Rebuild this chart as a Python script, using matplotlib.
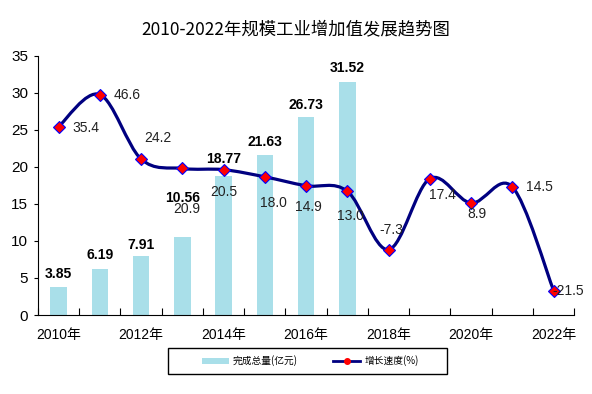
import numpy as np
import matplotlib
matplotlib.use("Agg")
import matplotlib.pyplot as plt
from matplotlib.path import Path
from matplotlib.patches import PathPatch, Patch, Rectangle
from matplotlib.lines import Line2D

plt.rcParams['font.family'] = ['Liberation Sans', 'Noto Sans CJK SC', 'DejaVu Sans']

# data
years = list(range(2010, 2023))
total = [3.85, 6.19, 7.91, 10.56, 18.77, 21.63, 26.73, 31.52]   # 完成总量(亿元)
growth = [35.4, 46.6, 24.2, 20.9, 20.5, 18.0, 14.9, 13.0, -7.3, 17.4, 8.9, 14.5, -21.5]  # 增长速度(%)
tick_years = [2010, 2012, 2014, 2016, 2018, 2020, 2022]

# label offsets (points)
bar_label_dy = [4, 5, 3, 23, 7, 4, 4, 5]
growth_offsets = [(10, -1, 'left'), (10, 0, 'left'), (12, 15, 'center'),
                  (3, -29, 'center'), (0, -16, 'center'), (6, -19, 'center'),
                  (2, -15, 'center'), (2, -18, 'center'), (2, 14, 'center'),
                  (9, -12, 'center'), (4, -8, 'center'), (10, 0, 'left'),
                  (-1, 0, 'left')]

fig = plt.figure(figsize=(5.92, 3.94), dpi=100)
ax = fig.add_axes([0.064, 0.2005, 0.906, 0.6575])
x = np.arange(len(years))

bar_color = '#a9dfe9'
ax.bar(x[:len(total)], total, width=0.4, color=bar_color, zorder=1)
for xi, v, dy in zip(x, total, bar_label_dy):
    ax.annotate(f"{v:.2f}", (xi, v), xytext=(0, dy), textcoords='offset points',
                ha='center', va='bottom', fontsize=10, fontweight='bold', color='black')

ax.set_xlim(-0.5, len(years) - 0.5)
ax.set_ylim(0, 35)
ax.set_yticks(range(0, 36, 5))
ax.tick_params(axis='y', direction='out', length=3, labelsize=11, pad=4)
ax.set_xticks(np.arange(-0.5, len(years), 1.0))
ax.set_xticklabels([])
ax.tick_params(axis='x', which='major', direction='in', length=5)
ax.set_xticks([years.index(y) for y in tick_years], minor=True)
ax.set_xticklabels([f"{y}年" for y in tick_years], minor=True, fontsize=10)
ax.tick_params(axis='x', which='minor', length=0, pad=9)
for s in ['top', 'right']:
    ax.spines[s].set_visible(False)

# growth on hidden secondary axis
ax2 = ax.twinx()
ax2.set_ylim(-30, 60)
ax2.axis('off')

pts = np.column_stack([x, growth]).astype(float)
verts = [pts[0]]
codes = [Path.MOVETO]
n = len(pts)
for i in range(n - 1):
    p0 = pts[i - 1] if i > 0 else pts[i]
    p1 = pts[i]
    p2 = pts[i + 1]
    p3 = pts[i + 2] if i + 2 < n else pts[i + 1]
    c1 = p1 + (p2 - p0) / 6.0
    c2 = p2 - (p3 - p1) / 6.0
    verts += [c1, c2, p2]
    codes += [Path.CURVE4] * 3
ax2.add_patch(PathPatch(Path(verts, codes), facecolor='none', edgecolor='#000080',
                        lw=2.3, zorder=3))
ax2.plot(x, growth, linestyle='none', marker='D', markersize=6.5,
         markerfacecolor='red', markeredgecolor='blue', markeredgewidth=0.8, zorder=4)
for xi, g, (dx, dy, ha) in zip(x, growth, growth_offsets):
    ax2.annotate(f"{g:.1f}", (xi, g), xytext=(dx, dy), textcoords='offset points',
                 ha=ha, va='center', fontsize=10, color='#222222', zorder=5)

fig.text(0.5, 0.925, "2010-2022年规模工业增加值发展趋势图", ha='center', va='center',
         fontsize=12.5, family=['Noto Sans CJK SC', 'DejaVu Sans'])

handles = [Patch(facecolor=bar_color, edgecolor='none'),
           Line2D([], [], color='#000080', lw=2, marker='o', markersize=4,
                  markerfacecolor='red', markeredgecolor='red')]
leg = fig.legend(handles, ["完成总量(亿元)", "增长速度(%)"], loc='center', ncol=2,
                 bbox_to_anchor=(0.524, 0.084), frameon=False,
                 handlelength=2.8, handleheight=0.6, handletextpad=0.4, columnspacing=3.6,
                 prop={'family': ['Noto Sans CJK SC', 'DejaVu Sans'], 'size': 7})
fig.patches.append(Rectangle((168 / 592, 20 / 394), 279 / 592, 26 / 394,
                             transform=fig.transFigure, fill=False,
                             edgecolor='black', lw=1.0))

fig.savefig("out.png", dpi=100)
